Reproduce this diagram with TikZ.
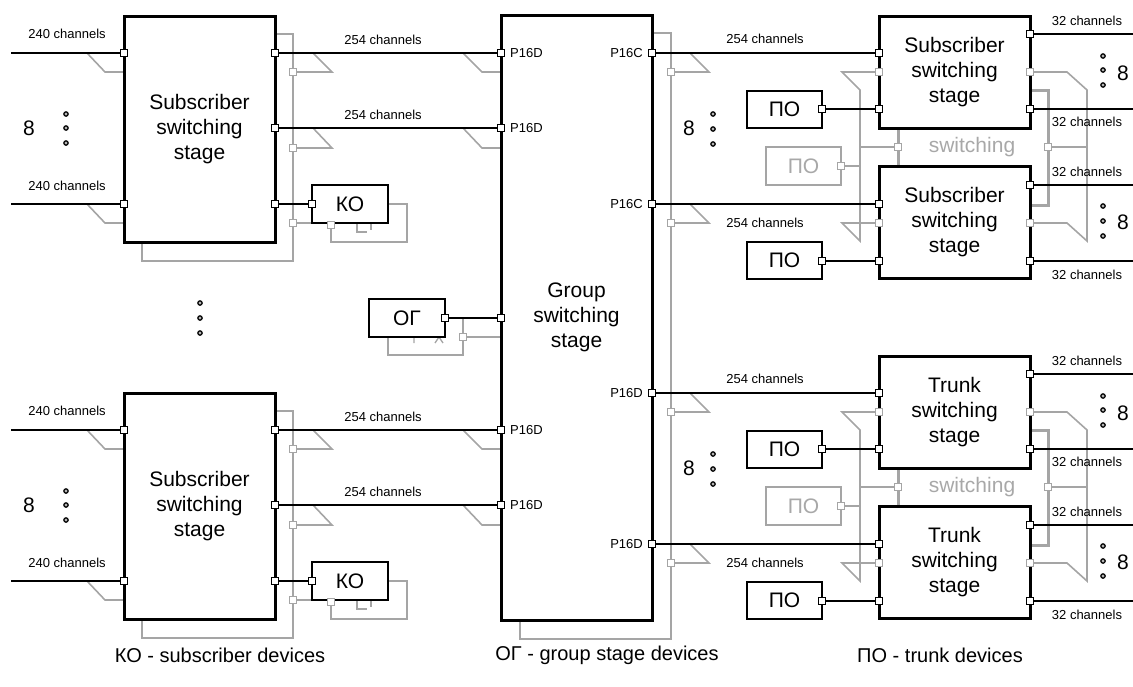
\documentclass[tikz,border=0pt]{standalone}
\usepackage{fontspec}
\setmainfont{Liberation Sans}
\definecolor{gry}{RGB}{165,165,165}
\definecolor{gryt}{RGB}{168,168,168}
\tikzset{
 blk/.style={draw, line width=3pt, fill=white, inner sep=0pt, align=center, font=\fontsize{21}{25}\selectfont, minimum width=151pt},
 dev/.style={draw, line width=2pt, fill=white, inner sep=0pt, font=\fontsize{21}{25}\selectfont, minimum width=76pt, minimum height=38pt},
 gdev/.style={dev, draw=gry, text=gryt},
 port/.style={draw, fill=white, line width=1.4pt, minimum size=7pt, inner sep=0pt},
 gport/.style={port, draw=gry},
 conn/.style={line width=1.6pt},
 gl/.style={draw=gry, line width=1.6pt},
 gthick/.style={draw=gry, line width=3pt},
 lbl/.style={font=\fontsize{13}{15}\selectfont, inner sep=1pt},
 num/.style={font=\fontsize{21}{25}\selectfont, inner sep=0pt},
 dotst/.style={draw=black, line width=1.2pt, fill=gray!60},
 leg/.style={font=\fontsize{20}{24}\selectfont},
 gtxt/.style={font=\fontsize{21}{25}\selectfont, text=gryt, inner sep=0pt},
}
\begin{document}
\begin{tikzpicture}[x=1pt,y=-1pt]
\useasboundingbox (0,0) rectangle (1133,686);

% ---------- gray background wiring ----------
\foreach \T in {16,393}{
  \draw[gl] (87,\T+37) -- (105,\T+56) -- (124,\T+56);
  \draw[gl] (87,\T+188) -- (105,\T+207) -- (124,\T+207);
  \draw[gl] (275,\T+18) -- (293,\T+18) -- (293,\T+245) -- (142,\T+245) -- (142,\T+226);
  \draw[gl] (313,\T+37) -- (332,\T+56) -- (293,\T+56);
  \draw[gl] (313,\T+112) -- (332,\T+132) -- (293,\T+132);
  \draw[gl] (293,\T+207) -- (312,\T+207);
  \draw[gl] (331,\T+207) -- (331,\T+226) -- (407,\T+226) -- (407,\T+188) -- (388,\T+188);
  \draw[gl, line width=1.3pt] (357,\T+208) -- (357,\T+216) -- (367,\T+216) (371,\T+208) -- (371,\T+214);
  \draw[gl] (463,\T+37) -- (482,\T+56) -- (501,\T+56);
  \draw[gl] (463,\T+112) -- (482,\T+132) -- (501,\T+132);
}
\draw[gl] (652,33) -- (671,33) -- (671,639) -- (520,639) -- (520,620);
\draw[gl] (501,337) -- (463,337);
\draw[gl] (463,318) -- (463,355) -- (388,355) -- (388,337);
\draw[gl, line width=1.3pt] (414,337) -- (414,343) (435,343) -- (439,337) -- (443,343);
\foreach \T in {16,356}{
  \draw[gl] (690,\T+37) -- (709,\T+56) -- (671,\T+56);
  \draw[gl] (690,\T+188) -- (709,\T+207) -- (671,\T+207);
  \draw[gl] (879,\T+56) -- (842,\T+56) -- (860,\T+74) -- (860,\T+225) -- (842,\T+207) -- (879,\T+207);
  \draw[gl] (841,\T+150) -- (860,\T+150);
  \draw[gl] (860,\T+131) -- (898,\T+131);
  \draw[gthick] (898,\T+112) -- (898,\T+150);
  \draw[gl] (1030,\T+56) -- (1067,\T+56) -- (1087,\T+74) -- (1087,\T+225) -- (1067,\T+207) -- (1030,\T+207);
  \draw[gl] (1048,\T+131) -- (1087,\T+131);
  \draw[gthick] (1030,\T+74) -- (1048,\T+74) -- (1048,\T+189) -- (1030,\T+189);
}

% ---------- boxes ----------
\node[blk, minimum height=605pt] (grp) at (576.5,317.5) {Group\\switching\\stage};
\node[dev] (og) at (407,318) {ОГ};
\foreach \T/\n in {16/1,393/2}{
  \node[blk, minimum height=226pt] (ss\n) at (199.5,\T+113) {Subscriber\\switching\\stage};
  \node[dev] (ko\n) at (350,\T+188) {КО};
}
\foreach \T/\m/\name in {16/s/Subscriber,356/t/Trunk}{
  \node[blk, minimum height=112pt] (\m1) at (954.5,\T+56) {\name\\switching\\stage};
  \node[blk, minimum height=112pt] (\m2) at (954.5,\T+206) {\name\\switching\\stage};
  \node[dev, minimum width=75pt, minimum height=37pt] (po\m1) at (784.5,\T+93.5) {ПО};
  \node[dev, minimum width=75pt, minimum height=37pt] (po\m2) at (784.5,\T+244.5) {ПО};
  \node[gdev, minimum width=75pt] (pog\m) at (803.5,\T+150) {ПО};
  \node[gtxt] (sw\m) at (972,\T+131) {switching};
}

% ---------- left side ports, connectors, labels ----------
\foreach \T/\n in {16/1,393/2}{
  \coordinate (in\n-a) at (11,\T+37);
  \coordinate (in\n-b) at (11,\T+188);
  \node[port] (ss\n-ia) at (124,\T+37) {};
  \node[port] (ss\n-ib) at (124,\T+188) {};
  \node[port] (ss\n-oa) at (275,\T+37) {};
  \node[port] (ss\n-ob) at (275,\T+112) {};
  \node[port] (ss\n-oc) at (275,\T+188) {};
  \node[port] (ko\n-p) at (312,\T+188) {};
  \node[port] (gl\n-a) at (501,\T+37) {};
  \node[port] (gl\n-b) at (501,\T+112) {};
  \node[gport] (gb\n-a) at (293,\T+56) {};
  \node[gport] (gb\n-b) at (293,\T+132) {};
  \node[gport] (gb\n-c) at (293,\T+207) {};
  \node[gport] (gk\n) at (331,\T+209) {};
  \draw[conn] (in\n-a) -- (ss\n-ia);
  \draw[conn] (in\n-b) -- (ss\n-ib);
  \draw[conn] (ss\n-oa) -- (gl\n-a);
  \draw[conn] (ss\n-ob) -- (gl\n-b);
  \draw[conn] (ss\n-oc) -- (ko\n-p);
  \node[lbl] (c240a\n) at (67,\T+18) {240 channels};
  \node[lbl] (c240b\n) at (67,\T+170) {240 channels};
  \node[lbl] (c254a\n) at (383,\T+24) {254 channels};
  \node[lbl] (c254b\n) at (383,\T+99) {254 channels};
  \node[lbl, anchor=west] (p16a\n) at (509,\T+37) {P16D};
  \node[lbl, anchor=west] (p16b\n) at (509,\T+112) {P16D};
  \node[num] (eight\n) at (29,\T+112) {8};
  \foreach \d in {-14,0,15} \draw[dotst] (66,\T+112+\d) circle (2.2pt);
}
\foreach \d in {303,318,333} \draw[dotst] (200,\d) circle (2.2pt);

% ---------- OG ----------
\node[port] (og-p) at (445,318) {};
\node[port] (gr-og) at (501,318) {};
\node[gport] (og-g) at (463,337) {};
\draw[conn] (og-p) -- (gr-og);

% ---------- right side ----------
\foreach \T/\m/\lab in {16/s/P16C,356/t/P16D}{
  \node[port] (gr-\m-a) at (652,\T+37) {};
  \node[port] (gr-\m-b) at (652,\T+188) {};
  \node[port] (\m1-i) at (879,\T+37) {};
  \node[port] (\m1-p) at (879,\T+93) {};
  \node[port] (\m1-oa) at (1030,\T+18) {};
  \node[port] (\m1-ob) at (1030,\T+93) {};
  \node[port] (\m2-i) at (879,\T+188) {};
  \node[port] (\m2-p) at (879,\T+245) {};
  \node[port] (\m2-oa) at (1030,\T+169) {};
  \node[port] (\m2-ob) at (1030,\T+245) {};
  \node[port] (po\m1-p) at (822,\T+93) {};
  \node[port] (po\m2-p) at (822,\T+245) {};
  \node[gport] (g\m-1) at (879,\T+56) {};
  \node[gport] (g\m-2) at (879,\T+207) {};
  \node[gport] (g\m-3) at (1030,\T+56) {};
  \node[gport] (g\m-4) at (1030,\T+207) {};
  \node[gport] (g\m-5) at (898,\T+131) {};
  \node[gport] (g\m-6) at (1048,\T+131) {};
  \node[gport] (g\m-7) at (841,\T+150) {};
  \node[gport] (g\m-8) at (671,\T+56) {};
  \node[gport] (g\m-9) at (671,\T+207) {};
  \coordinate (x\m1a) at (1133,\T+18);
  \coordinate (x\m1b) at (1133,\T+93);
  \coordinate (x\m2a) at (1133,\T+169);
  \coordinate (x\m2b) at (1133,\T+245);
  \draw[conn] (gr-\m-a) -- (\m1-i);
  \draw[conn] (gr-\m-b) -- (\m2-i);
  \draw[conn] (po\m1-p) -- (\m1-p);
  \draw[conn] (po\m2-p) -- (\m2-p);
  \draw[conn] (\m1-oa) -- (x\m1a);
  \draw[conn] (\m1-ob) -- (x\m1b);
  \draw[conn] (\m2-oa) -- (x\m2a);
  \draw[conn] (\m2-ob) -- (x\m2b);
  \node[lbl, anchor=east] (pr\m a) at (644,\T+37) {\lab};
  \node[lbl, anchor=east] (pr\m b) at (644,\T+188) {\lab};
  \node[lbl] (r254\m a) at (765,\T+23) {254 channels};
  \node[lbl] (r254\m b) at (765,\T+207) {254 channels};
  \node[lbl] (r32\m a) at (1087,\T+5) {32 channels};
  \node[lbl] (r32\m b) at (1087,\T+106) {32 channels};
  \node[lbl] (r32\m c) at (1087,\T+156) {32 channels};
  \node[lbl] (r32\m d) at (1087,\T+259) {32 channels};
  \node[num] (e8\m a) at (1123,\T+57) {8};
  \node[num] (e8\m b) at (1123,\T+206) {8};
  \node[num] (e8\m c) at (689,\T+112) {8};
  \foreach \d in {-16,-2,13} \draw[dotst] (1103,\T+56+\d) circle (2.2pt);
  \foreach \d in {-16,-1,14} \draw[dotst] (1103,\T+206+\d) circle (2.2pt);
  \foreach \d in {-14,1,16} \draw[dotst] (713,\T+112+\d) circle (2.2pt);
}

% ---------- legend ----------
\node[leg] (lg1) at (220,655) {КО - subscriber devices};
\node[leg] (lg2) at (607,655) {ОГ - group stage devices};
\node[leg] (lg3) at (940,655) {ПО - trunk devices};
\end{tikzpicture}
\end{document}
